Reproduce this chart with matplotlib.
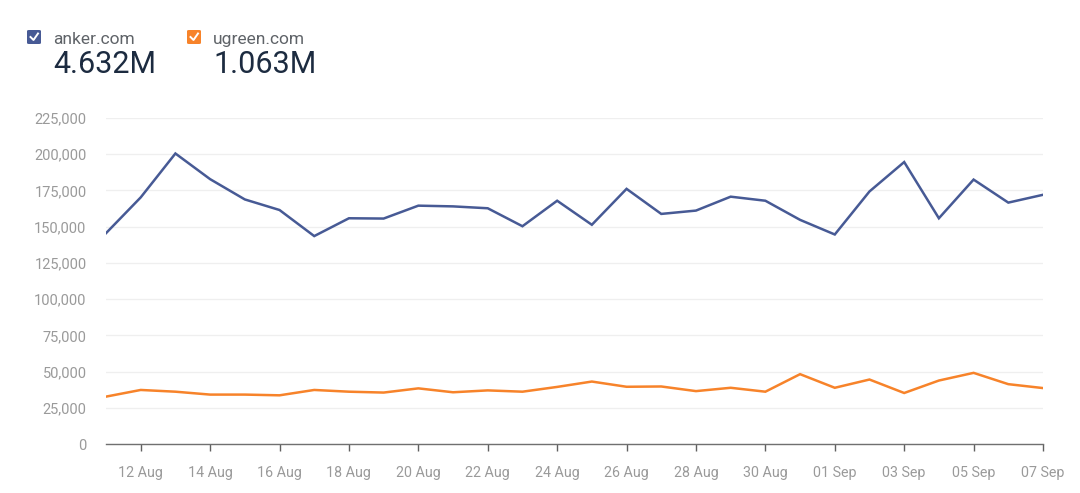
import matplotlib
matplotlib.use('Agg')
import matplotlib.pyplot as plt
import matplotlib.dates as mdates
from matplotlib.patches import FancyBboxPatch
from matplotlib.lines import Line2D
from matplotlib.ticker import FuncFormatter, MultipleLocator
import numpy as np
import pandas as pd

plt.rcParams['font.family'] = ['Roboto', 'DejaVu Sans']

# daily visits, 11 Aug - 07 Sep
dates = pd.date_range('2024-08-11', '2024-09-07', freq='D')
anker = [145500, 170200, 200500, 182800, 168800, 161500, 143500, 155800, 155600, 164500,
         164000, 162700, 150300, 167900, 151300, 176100, 158800, 161100, 170700, 167900,
         154700, 144600, 174300, 194600, 155800, 182500, 166600, 172000]
ugreen = [32700, 37300, 36100, 34100, 34100, 33600, 37300, 36100, 35500, 38400,
          35700, 37000, 36100, 39400, 43100, 39500, 39700, 36500, 38800, 36100,
          48200, 38800, 44500, 35200, 43800, 49100, 41300, 38600]
names = ['anker.com', 'ugreen.com']
totals = ['4.632M', '1.063M']
colors = ['#475a95', '#f7832a']

W, H = 1080, 493
fig = plt.figure(figsize=(W / 100, H / 100), dpi=100)
ax = fig.add_axes([106 / W, (H - 444) / H, (1043 - 106) / W, (444 - 118) / H])

ax.plot(dates, anker, color=colors[0], lw=1.8, solid_joinstyle='miter')
ax.plot(dates, ugreen, color=colors[1], lw=1.8, solid_joinstyle='miter')

ax.set_xlim(dates[0], dates[-1])
ax.set_ylim(0, 225000)
ax.yaxis.set_major_locator(MultipleLocator(25000))
ax.yaxis.set_major_formatter(FuncFormatter(lambda v, p: f'{int(v):,}'))
ax.set_xticks(dates[1::2])
ax.xaxis.set_major_formatter(mdates.DateFormatter('%d %b'))

ax.grid(axis='y', color='#efefef', lw=0.9)
ax.set_axisbelow(True)
for s in ['top', 'right', 'left']:
    ax.spines[s].set_visible(False)
ax.spines['bottom'].set_color('#707070')
ax.spines['bottom'].set_linewidth(1)
ax.tick_params(axis='y', length=0, pad=14, labelsize=10.5, labelcolor='#9a9a9a')
ax.tick_params(axis='x', length=5, width=1, color='#606060', pad=11,
               labelsize=10.3, labelcolor='#9a9a9a')

# legend header with checkboxes
for i, x0 in enumerate([27, 187]):
    box = FancyBboxPatch((x0 / W, (H - 44) / H), 14 / W, 14 / H,
                         boxstyle='round,pad=0,rounding_size=0.002',
                         transform=fig.transFigure, facecolor=colors[i], edgecolor='none')
    fig.patches.append(box)
    fig.lines.append(Line2D([(x0 + 3.5) / W, (x0 + 6.5) / W, (x0 + 11) / W],
                            [(H - 37) / H, (H - 40) / H, (H - 33.5) / H],
                            transform=fig.transFigure, color='white', lw=1.4))
    tx = x0 + 26
    fig.text(tx / W, (H - 44) / H, names[i], fontsize=12.5, color='#5f6368')
    fig.text(tx / W, (H - 73) / H, totals[i], fontsize=22, color='#1c2b40')

fig.savefig('out.png', dpi=100)
